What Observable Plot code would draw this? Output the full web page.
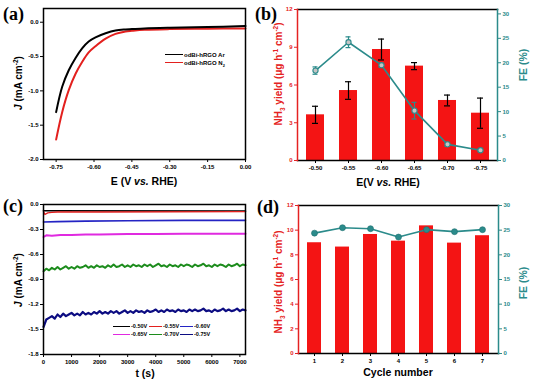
<!DOCTYPE html>
<html><head><meta charset="utf-8">
<script src="https://cdn.jsdelivr.net/npm/d3@7"></script>
<script src="https://cdn.jsdelivr.net/npm/@observablehq/plot@0.6"></script>
<style>
body{margin:0;background:#fff;}
#fig{position:relative;width:535px;height:381px;overflow:hidden;background:#fff;font-family:Arial,"Liberation Sans",sans-serif;}
#fig svg{position:absolute;overflow:visible;}
.lab{position:absolute;font-weight:bold;white-space:nowrap;line-height:1;}
.pl{position:absolute;font-family:"Liberation Serif","Times New Roman",serif;font-weight:bold;font-size:18px;line-height:1;}
.rot{transform:translate(-50%,-50%) rotate(-90deg);}
.ctr{transform:translate(-50%,-50%);}
sup,sub{font-size:65%;line-height:0;}
.leg{position:absolute;font-weight:bold;font-size:5.5px;line-height:1;white-space:nowrap;}
.sw{position:absolute;height:1.4px;}
</style>
</head><body>
<div id="fig"></div>
<script>
// ---------- Panel (a): LSV ----------
const lsvE  = [-0.75,-0.726,-0.70,-0.673,-0.647,-0.621,-0.594,-0.554,-0.515,-0.475,-0.45,-0.40,-0.30,-0.15,0.00];
const lsvAr = [-1.31,-0.94,-0.70,-0.52,-0.38,-0.28,-0.22,-0.16,-0.12,-0.105,-0.10,-0.09,-0.08,-0.07,-0.055];
const lsvN2 = [-1.71,-1.31,-0.99,-0.75,-0.58,-0.44,-0.35,-0.24,-0.17,-0.135,-0.125,-0.11,-0.10,-0.095,-0.09];
const aXTicks = [-0.75,-0.60,-0.45,-0.30,-0.15,0.00];
const aYTicks = [-2.0,-1.5,-1.0,-0.5,0.0];
const aLegend = ["odBi-hRGO  Ar","odBi-hRGO  N"];

// ---------- Panel (b): yield & FE vs potential ----------
const potentials = ["-0.50","-0.55","-0.60","-0.65","-0.70","-0.75"];
const yieldB    = [3.63,5.56,8.82,7.50,4.77,3.76];
const yieldErrB = [0.68,0.70,0.83,0.28,0.43,1.20];
const feB       = [18.4,24.2,19.5,10.2,3.3,2.1];
const feErrB    = [0.75,1.1,0.4,1.7,0.4,0.3];
const yieldTicksB = [0,3,6,9,12];
const feTicks = [0,5,10,15,20,25,30];

// ---------- Panel (c): chronoamperometry ----------
const cLabels = ["-0.50V","-0.55V","-0.60V","-0.65V","-0.70V","-0.75V"];
const tBlack = [0,7200];           const jBlack = [-0.075,-0.08];
const tRed   = [0,50,150,300,500,2000,7200]; const jRed = [-0.08,-0.12,-0.10,-0.095,-0.09,-0.09,-0.085];
const tBlue  = [0,500,1500,3000,5000,7200];  const jBlue = [-0.21,-0.205,-0.20,-0.195,-0.19,-0.19];
const tMag   = [0,100,300,600,1000,1500,2000,3000,4000,5000,6000,7200];
const jMag   = [-0.39,-0.37,-0.375,-0.365,-0.365,-0.36,-0.36,-0.355,-0.355,-0.35,-0.35,-0.35];
const tNoisy = [0,100,200,300,400,500,600,700,800,900,1000,1100,1200,1300,1400,1500,1600,1700,1800,1900,2000,2100,2200,2300,2400,2500,2600,2700,2800,2900,3000,3100,3200,3300,3400,3500,3600,3700,3800,3900,4000,4100,4200,4300,4400,4500,4600,4700,4800,4900,5000,5100,5200,5300,5400,5500,5600,5700,5800,5900,6000,6100,6200,6300,6400,6500,6600,6700,6800,6900,7000,7100,7200];
const jGreen = [-0.80,-0.77,-0.79,-0.76,-0.78,-0.75,-0.78,-0.76,-0.74,-0.77,-0.75,-0.77,-0.74,-0.76,-0.75,-0.73,-0.76,-0.74,-0.76,-0.73,-0.75,-0.74,-0.76,-0.73,-0.75,-0.72,-0.75,-0.74,-0.72,-0.75,-0.73,-0.75,-0.72,-0.74,-0.73,-0.75,-0.72,-0.74,-0.72,-0.75,-0.73,-0.71,-0.74,-0.73,-0.75,-0.72,-0.74,-0.73,-0.75,-0.72,-0.74,-0.72,-0.73,-0.75,-0.72,-0.74,-0.73,-0.71,-0.74,-0.73,-0.75,-0.72,-0.74,-0.72,-0.73,-0.75,-0.72,-0.74,-0.73,-0.71,-0.74,-0.72,-0.73];
const jNavy  = [-1.47,-1.38,-1.36,-1.34,-1.37,-1.32,-1.35,-1.31,-1.34,-1.32,-1.30,-1.33,-1.31,-1.33,-1.29,-1.32,-1.30,-1.32,-1.29,-1.31,-1.28,-1.31,-1.29,-1.31,-1.28,-1.30,-1.28,-1.31,-1.29,-1.27,-1.30,-1.28,-1.30,-1.27,-1.29,-1.28,-1.30,-1.27,-1.29,-1.28,-1.26,-1.29,-1.27,-1.29,-1.26,-1.28,-1.27,-1.29,-1.26,-1.28,-1.27,-1.29,-1.26,-1.28,-1.26,-1.28,-1.27,-1.25,-1.28,-1.27,-1.29,-1.26,-1.28,-1.27,-1.25,-1.28,-1.26,-1.28,-1.27,-1.25,-1.28,-1.26,-1.27];
const cXTicks = [0,1000,2000,3000,4000,5000,6000,7000];
const cYTicks = [0.0,-0.3,-0.6,-0.9,-1.2,-1.5,-1.8];

// ---------- Panel (d): cycling ----------
const cycles = ["1","2","3","4","5","6","7"];
const yieldD = [8.98,8.63,9.65,9.11,10.35,8.95,9.55];
const feD    = [24.4,25.5,25.3,23.6,25.1,24.7,25.1];
const yieldTicksD = [0,2,4,6,8,10,12];

const RED = "#f41414", TEAL = "#2b8b8b", AXRED = "#e52222";
const fig = document.getElementById("fig");
const baseStyle = {fontFamily:"Arial, 'Liberation Sans', sans-serif", fontSize:"6px", fontWeight:"bold", background:"transparent", overflow:"visible", color:"#000"};
function place(svg, left, top){ svg.style.left = left+"px"; svg.style.top = top+"px"; fig.appendChild(svg); }
function html(cls, left, top, inner, extra){ const d=document.createElement("div"); d.className=cls; d.style.left=left+"px"; d.style.top=top+"px"; d.innerHTML=inner; if(extra) Object.assign(d.style, extra); fig.appendChild(d); return d; }

// Panel a
const lsv = lsvE.map((e,i)=>({E:e, Ar:lsvAr[i], N2:lsvN2[i]}));
place(Plot.plot({
  width:265, height:190, marginLeft:43, marginRight:20, marginTop:8, marginBottom:31,
  style: baseStyle,
  x:{domain:[-0.8,0]}, y:{domain:[-2.0,0.2]},
  marks:[
    Plot.line(lsv,{x:"E",y:"N2",stroke:"#e3201e",strokeWidth:2,curve:"catmull-rom"}),
    Plot.line(lsv,{x:"E",y:"Ar",stroke:"#000",strokeWidth:2,curve:"catmull-rom"}),
    Plot.frame({stroke:"#000",strokeWidth:1.5}),
    Plot.axisX({ticks:aXTicks,tickFormat:d=>d.toFixed(2),tickSize:3,tickPadding:2,label:null}),
    Plot.axisY({ticks:aYTicks,tickFormat:d=>d.toFixed(1),tickSize:3,tickPadding:2,label:null})
  ]
}), 0, 0);

// Panel b (bars, left axis)
const rowsB = potentials.map((p,i)=>({E:p, y:yieldB[i], e:yieldErrB[i], fe:feB[i], fe_e:feErrB[i]}));
const xB = {domain:potentials, paddingInner:0.46, paddingOuter:0.23};
place(Plot.plot({
  width:270, height:190, marginLeft:32, marginRight:38, marginTop:9, marginBottom:30,
  style: baseStyle,
  x: xB, y:{domain:[0,12]},
  marks:[
    Plot.barY(rowsB,{x:"E",y:"y",fill:RED}),
    Plot.ruleX(rowsB,{x:"E",y1:d=>d.y-d.e,y2:d=>d.y+d.e,stroke:"#000",strokeWidth:1.2}),
    Plot.tickY(rowsB,{x:"E",y:d=>d.y+d.e,stroke:"#000",strokeWidth:1.2,insetLeft:6,insetRight:6}),
    Plot.tickY(rowsB,{x:"E",y:d=>d.y-d.e,stroke:"#000",strokeWidth:1.2,insetLeft:6,insetRight:6}),
    Plot.frame({anchor:"top",stroke:"#000",strokeWidth:1.5}),
    Plot.frame({anchor:"bottom",stroke:"#000",strokeWidth:1.5}),
    Plot.frame({anchor:"left",stroke:AXRED,strokeWidth:1.5}),
    Plot.axisX({tickSize:3,tickPadding:2,label:null}),
    Plot.axisY({ticks:yieldTicksB,tickSize:3,tickPadding:2,label:null,color:AXRED})
  ]
}), 265, 0);
// Panel b (FE, right axis)
place(Plot.plot({
  width:270, height:190, marginLeft:32, marginRight:38, marginTop:9, marginBottom:30,
  style: baseStyle,
  x: {...xB, axis:null}, y:{domain:[0,30.9]},
  marks:[
    Plot.frame({anchor:"right",stroke:TEAL,strokeWidth:1.5}),
    Plot.line(rowsB,{x:"E",y:"fe",stroke:TEAL,strokeWidth:1.6}),
    Plot.ruleX(rowsB,{x:"E",y1:d=>d.fe-d.fe_e,y2:d=>d.fe+d.fe_e,stroke:TEAL,strokeWidth:1.2}),
    Plot.tickY(rowsB,{x:"E",y:d=>d.fe+d.fe_e,stroke:TEAL,strokeWidth:1.2,insetLeft:6.5,insetRight:6.5}),
    Plot.tickY(rowsB,{x:"E",y:d=>d.fe-d.fe_e,stroke:TEAL,strokeWidth:1.2,insetLeft:6.5,insetRight:6.5}),
    Plot.dot(rowsB,{x:"E",y:"fe",r:2.6,fill:"#c4c4c4",stroke:TEAL,strokeWidth:1.1}),
    Plot.axisY({anchor:"right",ticks:feTicks,tickSize:3,tickPadding:2,label:null,color:TEAL})
  ]
}), 265, 0);

// Panel c
function series(ts, js, k){ return ts.map((t,i)=>({t, j:js[i], k})); }
const cColors = ["#000","#e3201e","#2424c4","#e02ae0","#1c8c1c","#0c0c82"];
place(Plot.plot({
  width:265, height:191, marginLeft:43, marginRight:20, marginTop:14, marginBottom:27,
  style: baseStyle,
  x:{domain:[0,7200]}, y:{domain:[-1.8,0]},
  marks:[
    Plot.line(series(tNoisy,jNavy,5),{x:"t",y:"j",stroke:cColors[5],strokeWidth:2.2}),
    Plot.line(series(tNoisy,jGreen,4),{x:"t",y:"j",stroke:cColors[4],strokeWidth:2}),
    Plot.line(series(tMag,jMag,3),{x:"t",y:"j",stroke:cColors[3],strokeWidth:2}),
    Plot.line(series(tBlue,jBlue,2),{x:"t",y:"j",stroke:cColors[2],strokeWidth:1.6}),
    Plot.line(series(tBlack,jBlack,0),{x:"t",y:"j",stroke:cColors[0],strokeWidth:1.6}),
    Plot.line(series(tRed,jRed,1),{x:"t",y:"j",stroke:cColors[1],strokeWidth:1.3}),
    Plot.frame({stroke:"#000",strokeWidth:1.5}),
    Plot.axisX({ticks:cXTicks,tickFormat:d=>String(d),tickSize:3,tickPadding:2,label:null}),
    Plot.axisY({ticks:cYTicks,tickFormat:d=>d.toFixed(1),tickSize:3,tickPadding:2,label:null})
  ]
}), 0, 190);

// Panel d
const rowsD = cycles.map((c,i)=>({c, y:yieldD[i], fe:feD[i]}));
const xD = {domain:cycles, paddingInner:0.5, paddingOuter:0.25};
place(Plot.plot({
  width:270, height:191, marginLeft:33, marginRight:37, marginTop:15, marginBottom:28,
  style: baseStyle,
  x: xD, y:{domain:[0,12]},
  marks:[
    Plot.barY(rowsD,{x:"c",y:"y",fill:RED}),
    Plot.frame({anchor:"top",stroke:"#000",strokeWidth:1.5}),
    Plot.frame({anchor:"bottom",stroke:"#000",strokeWidth:1.5}),
    Plot.frame({anchor:"left",stroke:AXRED,strokeWidth:1.5}),
    Plot.axisX({tickSize:3,tickPadding:2,label:null}),
    Plot.axisY({ticks:yieldTicksD,tickSize:3,tickPadding:2,label:null,color:AXRED})
  ]
}), 265, 190);
place(Plot.plot({
  width:270, height:191, marginLeft:33, marginRight:37, marginTop:15, marginBottom:28,
  style: baseStyle,
  x: {...xD, axis:null}, y:{domain:[0,30]},
  marks:[
    Plot.frame({anchor:"right",stroke:TEAL,strokeWidth:1.5}),
    Plot.line(rowsD,{x:"c",y:"fe",stroke:TEAL,strokeWidth:1.6}),
    Plot.dot(rowsD,{x:"c",y:"fe",r:3,fill:TEAL,stroke:"#1f6f6f",strokeWidth:0.6}),
    Plot.axisY({anchor:"right",ticks:feTicks,tickSize:3,tickPadding:2,label:null,color:TEAL})
  ]
}), 265, 190);

// ---------- Text labels ----------
html("pl", 3, 5, "(a)");
html("pl", 255, 5, "(b)");
html("pl", 3, 197, "(c)");
html("pl", 257, 198, "(d)");

const jLab = '<i>J</i> (mA cm<sup>-2</sup>)';
html("lab rot", 19, 83, jLab, {fontSize:"10px"});
html("lab rot", 19, 280, jLab, {fontSize:"10px"});
html("lab ctr", 144, 181, 'E (V <i>vs.</i> RHE)', {fontSize:"10.5px"});
html("lab ctr", 145, 373, 't (s)', {fontSize:"10.5px"});
html("lab ctr", 388, 182, 'E(V <i>vs.</i> RHE)', {fontSize:"10.5px"});
html("lab ctr", 398, 372, 'Cycle number', {fontSize:"10.5px"});
const nhLab = 'NH<sub>3</sub> yield (μg h<sup>-1</sup> cm<sup>-2</sup>)';
html("lab rot", 279, 74, nhLab, {fontSize:"10px", color:AXRED});
html("lab rot", 279, 282, nhLab, {fontSize:"10px", color:AXRED});
html("lab rot", 523, 65, 'FE (%)', {fontSize:"10.5px", color:TEAL});
html("lab rot", 523, 283, 'FE (%)', {fontSize:"10.5px", color:TEAL});

// Legend (a)
html("sw", 165, 53.5, "", {width:"18px", background:"#000", height:"1.8px"});
html("sw", 165, 61.5, "", {width:"18px", background:"#e3201e", height:"1.8px"});
html("leg", 184, 51.5, aLegend[0], {fontSize:"6px"});
html("leg", 184, 59.5, aLegend[1] + '<sub>2</sub>', {fontSize:"6px"});

// Legend (c)
const legCols = [[113,17],[149,13],[180,13]];
const legRows = [326,334];
cLabels.forEach((lab,i)=>{
  const r = Math.floor(i/3), c = i%3;
  const [x0,w] = legCols[c];
  html("sw", x0, legRows[r], "", {width:w+"px", background:cColors[i]});
  html("leg", x0+w+1, legRows[r]-2.3, lab);
});
</script>
</body></html>
